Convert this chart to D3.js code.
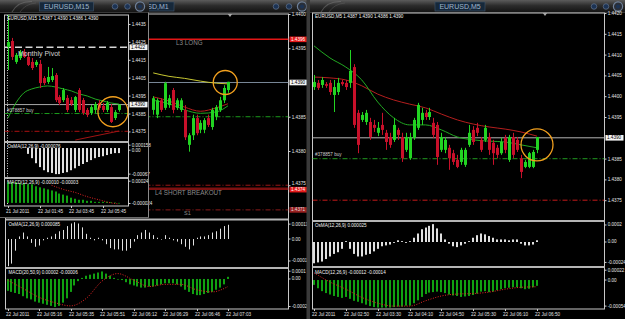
<!DOCTYPE html>
<html>
<head>
<meta charset="utf-8">
<script src="https://cdn.jsdelivr.net/npm/d3@7"></script>
<style>
  body { margin: 0; background: #000; overflow: hidden; }
  svg { display: block; }
  text { font-family: "Liberation Sans", Arial, sans-serif; }
  .ax text { fill: #e8e8e8; font-size: 4.6px; }
  .ax line { stroke: #d0d0d0; }
  .ax path { display: none; }
  .hdr { fill: #f2f2f2; font-size: 4.6px; }
  .tm { fill: #e2e2e2; font-size: 4.6px; }
</style>
</head>
<body>
<svg id="chart" width="625" height="319"></svg>
<script>
// ---------- EURUSD M15 (left window) ----------
const m15Open  = [1.44222,1.44255,1.44138,1.44160,1.44194,1.44166,1.44138,1.44121,1.44127,1.44048,1.44026,1.44037,1.44065,1.43942,1.43925,1.43937,1.43925,1.43870,1.43981,1.43925,1.43870,1.43853,1.43870,1.43909,1.43892,1.43870,1.43886,1.43825,1.43870];
const m15High  = [1.44412,1.44272,1.44188,1.44205,1.44210,1.44194,1.44160,1.44149,1.44149,1.44059,1.44110,1.44104,1.44076,1.43953,1.43992,1.43953,1.43942,1.43948,1.43992,1.43937,1.43881,1.43897,1.43914,1.43925,1.43909,1.43920,1.43903,1.43870,1.43900];
const m15Low   = [1.44093,1.44149,1.44127,1.44149,1.44160,1.44115,1.44093,1.44110,1.43992,1.44009,1.44015,1.44026,1.43914,1.43897,1.43914,1.43858,1.43892,1.43858,1.43858,1.43842,1.43830,1.43842,1.43853,1.43870,1.43858,1.43858,1.43797,1.43814,1.43860];
const m15Close = [1.44249,1.44166,1.44177,1.44194,1.44166,1.44121,1.44104,1.44138,1.44020,1.44020,1.44054,1.44059,1.43925,1.43909,1.43981,1.43870,1.43903,1.43942,1.43870,1.43853,1.43842,1.43886,1.43903,1.43881,1.43870,1.43909,1.43803,1.43858,1.43900];
const m15MaIdx = [0,2,4,6,8,10,12,14,16,18,20,22,24,26,28];
const m15Ma    = [1.43825,1.43909,1.43965,1.43987,1.43998,1.44004,1.43998,1.43987,1.43976,1.43959,1.43948,1.43931,1.43920,1.43909,1.43903];
const m15TrendIdx = [17, 28];
const m15Trend    = [1.43702, 1.43752];
const m15Levels = [1.4422, 1.4390, 1.4385, 1.4375];
const m15Osma = [null,null,null,null,null,-0.00015,-0.00026,-0.00039,-0.00049,-0.00057,-0.00062,-0.00064,-0.00067,-0.00067,-0.00064,-0.00062,-0.00057,-0.00052,-0.00046,-0.00041,-0.00036,-0.00031,-0.00026,-0.00023,-0.00021,-0.00018,-0.00015,-0.00013,-0.00013];
const m15Macd = [0.00020,0.00020,0.00020,0.00019,0.00019,0.00018,0.00018,0.00016,0.00015,0.00014,0.00013,0.00012,0.00011,0.00009,0.00008,0.00007,0.00005,0.00004,0.00003,0.00003,0.00002,0.00002,0.00001,0.00001,0.00001,0.00001,0.000005,0.000003,-0.000002];
const m15SigIdx = [11,14,17,20,23,26,28];
const m15Sig    = [0.00017,0.00013,0.00010,0.00006,0.00003,0.00000,-0.00001];
const m15Ticks = [1.4435,1.4425,1.4415,1.4405,1.4395,1.4385,1.4375];
const m15OsmaTicks = [0.000158, 0, -0.00067];
const m15OsmaLabels = ["0.000158", "0.00", "-0.00067"];
const m15MacdTicks = [0.00024, -0.000024];
const m15MacdLabels = ["0.00024", "-0.000024"];
const m15TimeIdx = [0, 8, 16, 24];
const m15Times = ["21 Jul 2011", "22 Jul 01:45", "22 Jul 03:45", "22 Jul 05:45"];

// ---------- EURUSD M1 (middle window, bars 37..56 visible) ----------
const m1First = 37;
const m1Open  = [1.43860,1.43853,1.43874,1.43863,1.43867,1.43889,1.43863,1.43860,1.43860,1.43809,1.43823,1.43848,1.43831,1.43831,1.43848,1.43835,1.43850,1.43860,1.43874,1.43889];
const m1High  = [1.43880,1.43877,1.43877,1.43901,1.43882,1.43892,1.43877,1.43877,1.43867,1.43826,1.43853,1.43853,1.43845,1.43848,1.43853,1.43863,1.43867,1.43879,1.43896,1.43901];
const m1Low   = [1.43853,1.43848,1.43857,1.43860,1.43863,1.43855,1.43860,1.43857,1.43816,1.43799,1.43816,1.43823,1.43826,1.43826,1.43835,1.43831,1.43845,1.43857,1.43870,1.43885];
const m1Close = [1.43877,1.43874,1.43860,1.43899,1.43877,1.43860,1.43874,1.43874,1.43820,1.43823,1.43848,1.43826,1.43841,1.43845,1.43838,1.43860,1.43864,1.43874,1.43892,1.43901];
const m1MaIdx  = [37,41,45,49,53,56];
const m1MaFast = [1.43874,1.43869,1.43860,1.43855,1.43857,1.43866];
const m1MaSlow = [1.43879,1.43873,1.43864,1.43858,1.43863,1.43869];
const m1MaLong = [1.43914,1.43909,1.43906,1.43902,1.43899,1.43898];
const m1Levels = [1.43963, 1.4390, 1.4385, 1.4375, 1.43745, 1.43714];
const m1Osma = [-0.00021,-0.00019,-0.00009,0.00002,0.00005,0.00002,-0.00003,-0.00006,-0.00005,-0.00001,0.00001,0.00002,0.00004,0.00006,0.00007,0.0001,0.00012,0.00013,0.00012,0.00009,0.00004,0.00001,-0.00001,0.00001,-0.00001,-0.00004,-0.00007,-0.00008,-0.00008,-0.00009,-0.00009,-0.00007,-0.00002,0.00003,0.00005,0.00007,0.00005,0.00003,0.00001,0.00000,0.00003,0.00001,-0.00001,-0.00002,-0.00004,-0.00006,-0.00008,-0.00005,0.00001,0.00002,0.00002,0.00003,0.00005,0.00006,0.00008,0.0001,0.00011];
const m1Macd = [-0.00011,-0.00012,-0.00013,-0.00014,-0.00016,-0.00018,-0.00019,-0.00021,-0.00022,-0.00023,-0.00024,-0.00025,-0.00026,-0.00025,-0.00022,-0.00018,-0.00012,-0.00006,-0.00002,0.00001,0.00003,0.00004,0.00005,0.00006,0.00007,0.00005,0.00003,0.00001,0.00000,-0.00001,-0.00003,-0.00005,-0.00006,-0.00007,-0.00008,-0.00008,-0.00007,-0.00007,-0.00006,-0.00005,-0.00004,-0.00004,-0.00004,-0.00005,-0.00007,-0.00010,-0.00012,-0.00014,-0.00015,-0.00015,-0.00014,-0.00013,-0.00012,-0.00010,-0.00008,-0.00005,0.00002];
const m1SigIdx = [0,4,8,12,16,20,24,28,32,36,40,44,48,52,56];
const m1Sig    = [-0.00001,-0.00009,-0.00017,-0.00022,-0.00025,-0.00018,-0.00002,0.00005,-0.00001,-0.00007,-0.00005,-0.00005,-0.00010,-0.00012,-0.00007];
const m1Ticks = [1.4400,1.4395,1.4385,1.4380,1.4375];
const m1OsmaTicks = [0.000115, 0, -0.00017];
const m1OsmaLabels = ["0.000115", "0.00", "-0.00017"];
const m1MacdTicks = [0.0001, 0, -0.00026];
const m1MacdLabels = ["0.0001", "0.00", "-0.00026"];
const m1TimeIdx = [0, 8, 16, 24, 32, 40, 48, 56];
const m1Times = ["22 Jul 2011","22 Jul 05:16","22 Jul 05:35","22 Jul 05:51","22 Jul 06:12","22 Jul 06:29","22 Jul 06:46","22 Jul 07:03"];

// ---------- EURUSD M5 (right window) ----------
const m5Open  = [1.44022,1.44032,1.44027,1.44029,1.44032,1.44003,1.44010,1.44034,1.44032,1.44032,1.44070,1.43960,1.43943,1.43938,1.43938,1.43931,1.43912,1.43931,1.43912,1.43902,1.43895,1.43919,1.43902,1.43871,1.43851,1.43900,1.43924,1.43943,1.43960,1.43950,1.43936,1.43931,1.43871,1.43871,1.43876,1.43863,1.43847,1.43842,1.43835,1.43883,1.43919,1.43924,1.43895,1.43895,1.43902,1.43888,1.43876,1.43863,1.43900,1.43847,1.43902,1.43895,1.43851,1.43830,1.43830,1.43830,1.43871];
const m5High  = [1.44051,1.44039,1.44046,1.44034,1.44039,1.44039,1.44044,1.44039,1.44039,1.44111,1.44077,1.43967,1.43962,1.43967,1.43948,1.43943,1.43938,1.43960,1.43919,1.43912,1.43948,1.43924,1.43912,1.43912,1.43912,1.43948,1.43984,1.43972,1.43967,1.43972,1.43948,1.43938,1.43912,1.43902,1.43883,1.43871,1.43859,1.43876,1.43876,1.43931,1.43928,1.43936,1.43902,1.43931,1.43912,1.43895,1.43883,1.43900,1.43907,1.43907,1.43912,1.43902,1.43859,1.43847,1.43866,1.43871,1.43902];
const m5Low   = [1.44015,1.44015,1.44020,1.44020,1.44003,1.43962,1.44003,1.44025,1.44015,1.44020,1.43924,1.43863,1.43938,1.43931,1.43895,1.43914,1.43904,1.43907,1.43871,1.43876,1.43890,1.43895,1.43842,1.43866,1.43847,1.43895,1.43919,1.43931,1.43943,1.43943,1.43900,1.43835,1.43866,1.43863,1.43823,1.43835,1.43827,1.43835,1.43830,1.43878,1.43883,1.43904,1.43866,1.43890,1.43859,1.43835,1.43851,1.43859,1.43863,1.43842,1.43851,1.43866,1.43803,1.43827,1.43827,1.43827,1.43863];
const m5Close = [1.44034,1.44020,1.44039,1.44025,1.44010,1.44022,1.44032,1.44029,1.44022,1.44061,1.43931,1.43883,1.43955,1.43960,1.43902,1.43924,1.43924,1.43919,1.43890,1.43883,1.43931,1.43907,1.43851,1.43902,1.43902,1.43943,1.43979,1.43960,1.43950,1.43962,1.43907,1.43854,1.43902,1.43895,1.43851,1.43842,1.43830,1.43871,1.43871,1.43912,1.43890,1.43912,1.43871,1.43924,1.43871,1.43863,1.43859,1.43890,1.43871,1.43902,1.43859,1.43871,1.43818,1.43842,1.43863,1.43866,1.43902];
const m5MaIdx  = [0,4,8,12,16,20,24,28,32,36,40,44,48,52,56];
const m5MaFast = [1.44121,1.44092,1.44070,1.44039,1.43986,1.43948,1.43931,1.43931,1.43919,1.43902,1.43895,1.43892,1.43890,1.43883,1.43876];
const m5MaSlow = [1.44046,1.44044,1.44039,1.44025,1.44005,1.43991,1.43981,1.43972,1.43957,1.43943,1.43933,1.43926,1.43921,1.43914,1.43904];
const m5Levels = [1.4390, 1.4385, 1.4375];
const m5Osma = [-0.00025,-0.00024,-0.00023,-0.0002,-0.00017,-0.00014,-0.00012,-0.00008,0.00001,-0.00008,-0.00014,-0.00017,-0.00017,-0.00015,-0.00014,-0.00011,-0.00008,-0.00005,-0.00004,-0.00003,-0.00001,0.00002,0.00001,-0.00001,0.00001,0.00005,0.0001,0.00015,0.00017,0.00019,0.00021,0.00016,0.0001,0.00003,-0.00002,-0.00005,-0.00006,-0.00004,-0.00002,0.00001,0.00005,0.00008,0.0001,0.00009,0.00007,0.00005,0.00003,0.00003,0.00003,0.00002,0.00003,0.00003,-0.00002,-0.00004,-0.00004,-0.00003,0.00002];
const m5Macd = [-0.00010,-0.00017,-0.00023,-0.00027,-0.00030,-0.00033,-0.00035,-0.00037,-0.00035,-0.00039,-0.00043,-0.00045,-0.00048,-0.00051,-0.00054,-0.00056,-0.00057,-0.00057,-0.00057,-0.00057,-0.00056,-0.00055,-0.00055,-0.00053,-0.00053,-0.00048,-0.00042,-0.00035,-0.00029,-0.00026,-0.00025,-0.00024,-0.00025,-0.00027,-0.00030,-0.00032,-0.00033,-0.00035,-0.00034,-0.00033,-0.00031,-0.00028,-0.00024,-0.00023,-0.00025,-0.00024,-0.00021,-0.00019,-0.00017,-0.00016,-0.00015,-0.00015,-0.00017,-0.00019,-0.00018,-0.00015,-0.00012];
const m5SigIdx = [0,4,8,12,16,20,24,28,32,36,40,44,48,52,56];
const m5Sig    = [0.00015,-0.00004,-0.00019,-0.00036,-0.00048,-0.00054,-0.00054,-0.00043,-0.00033,-0.00029,-0.00028,-0.00025,-0.00019,-0.00015,-0.00014];
const m5Ticks = [1.4420,1.4415,1.4410,1.4405,1.4400,1.4395,1.4385,1.4380,1.4375];
const m5OsmaTicks = [0.0002, 0, -0.00024];
const m5OsmaLabels = ["0.0002", "0.00", "-0.00024"];
const m5MacdTicks = [0.00022, 0, -0.00054];
const m5MacdLabels = ["0.00022", "0.00", "-0.00054"];
const m5TimeIdx = [0, 8, 16, 24, 32, 40, 48, 56];
const m5Times = ["22 Jul 2011","22 Jul 02:50","22 Jul 03:30","22 Jul 04:10","22 Jul 04:50","22 Jul 05:30","22 Jul 06:10","22 Jul 06:50"];

const m15Header = "EURUSD,M15  1.4387 1.4390 1.4386 1.4390";
const m5Header = "EURUSD,M5  1.4387 1.4390 1.4386 1.4390";

// ---------- drawing ----------
const BULL = "#22d422", BEAR = "#c8102a";
const DASHDOT = "5,2,1,2";

const svg = d3.select("#chart");
const defs = svg.append("defs");
const grad = defs.append("linearGradient").attr("id", "tb")
    .attr("x1", 0).attr("y1", 0).attr("x2", 0).attr("y2", 1);
grad.append("stop").attr("offset", "0%").attr("stop-color", "#5c5c5c");
grad.append("stop").attr("offset", "45%").attr("stop-color", "#2c2c2c");
grad.append("stop").attr("offset", "100%").attr("stop-color", "#121212");

svg.append("rect").attr("width", 625).attr("height", 319).attr("fill", "#000");

function makeClip(id, x, y, w, h) {
    defs.append("clipPath").attr("id", id)
        .append("rect").attr("x", x).attr("y", y).attr("width", w).attr("height", h);
    return "url(#" + id + ")";
}

function drawWindow(win) {
    const g = svg.append("g");
    g.append("rect").attr("x", win.x).attr("y", 0).attr("width", win.w).attr("height", win.h).attr("fill", "#000");
    g.append("rect").attr("x", win.x).attr("y", 0).attr("width", win.w).attr("height", 12.5).attr("fill", "url(#tb)");
    g.append("line").attr("x1", win.x).attr("x2", win.x + win.w).attr("y1", 12.5).attr("y2", 12.5)
        .attr("stroke", "#444").attr("stroke-width", 0.8);
    // swirl decoration on the title bar
    g.append("path").attr("d", `M${win.x + 12},12 Q${win.x + 18},1 ${win.x + 32},1.5`)
        .attr("fill", "none").attr("stroke", "#777").attr("stroke-width", 1.1).attr("opacity", 0.55);
    g.append("path").attr("d", `M${win.x + 20},12 Q${win.x + 25},4 ${win.x + 36},3`)
        .attr("fill", "none").attr("stroke", "#666").attr("stroke-width", 0.8).attr("opacity", 0.5);
    g.append("rect").attr("x", win.labelX - win.labelW / 2).attr("y", 2).attr("width", win.labelW).attr("height", 9)
        .attr("fill", "#16283a").attr("stroke", "#42566c").attr("stroke-width", 0.6);
    g.append("text").attr("x", win.labelX).attr("y", 9.3).attr("text-anchor", "middle")
        .attr("fill", "#9fb5cc").attr("font-size", 7).text(win.title);
    win.buttons.forEach((bx, k) => {
        const r = k === 2 ? 4.6 : 2.8;
        g.append("circle").attr("cx", bx).attr("cy", 6.5).attr("r", r)
            .attr("fill", k === 2 ? "#2a2f38" : "#1c3354").attr("stroke", "#6f8098").attr("stroke-width", k === 2 ? 1.2 : 0.6);
        if (k === 2) g.append("circle").attr("cx", bx).attr("cy", 6.5).attr("r", 2).attr("fill", "#1c3354");
    });
    return g;
}

function drawFrame(g, x0, x1, ys) {
    g.append("rect").attr("x", x0).attr("y", ys[0]).attr("width", x1 - x0).attr("height", ys[ys.length - 1] - ys[0])
        .attr("fill", "none").attr("stroke", "#c8c8c8").attr("stroke-width", 1);
    ys.slice(1, -1).forEach(v => {
        g.append("line").attr("x1", x0).attr("x2", x1).attr("y1", v).attr("y2", v)
            .attr("stroke", "#b4b4b4").attr("stroke-width", 2);
    });
}

function drawCandles(g, x, y, first, o, h, l, c) {
    const idx = d3.range(o.length);
    const col = i => c[i] >= o[i] ? BULL : BEAR;
    g.selectAll(null).data(idx).join("line")
        .attr("x1", i => Math.round(x(first + i)) + 0.5)
        .attr("x2", i => Math.round(x(first + i)) + 0.5)
        .attr("y1", i => y(h[i])).attr("y2", i => y(l[i]))
        .attr("stroke", col).attr("stroke-width", 1);
    g.selectAll(null).data(idx).join("rect")
        .attr("x", i => Math.round(x(first + i)) - 1)
        .attr("y", i => y(Math.max(o[i], c[i])))
        .attr("width", 3)
        .attr("height", i => Math.max(1, Math.abs(y(o[i]) - y(c[i]))))
        .attr("fill", col);
}

function drawLine(g, x, y, idx, vals, color, width, dash) {
    g.append("path").datum(idx.map((d, k) => [d, vals[k]]))
        .attr("d", d3.line().x(d => x(d[0])).y(d => y(d[1])).curve(d3.curveMonotoneX))
        .attr("fill", "none").attr("stroke", color).attr("stroke-width", width)
        .attr("stroke-dasharray", dash || null);
}

function drawLevel(g, x0, x1, yPx, color, width, dash) {
    g.append("line").attr("x1", x0).attr("x2", x1).attr("y1", yPx).attr("y2", yPx)
        .attr("stroke", color).attr("stroke-width", width).attr("stroke-dasharray", dash || null);
}

// nudge: optional {tickValue: pixelShift} to lift a label clear of a price box
function drawPriceAxis(g, y, xPos, ticks, nudge) {
    const ax = g.append("g").attr("class", "ax").attr("transform", `translate(${xPos},0)`)
        .call(d3.axisRight(y).tickValues(ticks).tickFormat(d3.format(".4f")).tickSize(2).tickPadding(1.2));
    if (nudge) {
        ax.selectAll(".tick text").attr("y", d => nudge[d] || 0);
    }
}

function drawIndAxis(g, y, xPos, ticks, labels) {
    const [lo, hi] = d3.extent(y.range());
    const pos = [];
    ticks.forEach((d, k) => {
        let p = Math.min(hi - 2.5, Math.max(lo + 3.2, y(d)));
        if (k > 0) p = Math.max(p, pos[k - 1] + 5);
        pos.push(p);
    });
    g.append("g").attr("class", "ax").attr("transform", `translate(${xPos},0)`)
        .call(d3.axisRight(y).tickValues(ticks).tickFormat((d, k) => labels[k]).tickSize(2).tickPadding(1.2))
        .selectAll(".tick").attr("transform", (d, k) => `translate(0,${pos[k]})`);
}

function drawPriceBox(g, xPos, yPx, label, fill, color) {
    g.append("rect").attr("x", xPos + 1).attr("y", yPx - 2.8).attr("width", 18).attr("height", 5.6).attr("fill", fill);
    g.append("text").attr("x", xPos + 2.5).attr("y", yPx + 1.6).attr("fill", color).attr("font-size", 4.6).text(label);
}

function drawHist(g, x, y, vals, color, width) {
    const idx = d3.range(vals.length).filter(i => vals[i] !== null);
    g.selectAll(null).data(idx).join("rect")
        .attr("x", i => Math.round(x(i)) - Math.floor(width / 2))
        .attr("y", i => Math.min(y(0), y(vals[i])))
        .attr("width", width)
        .attr("height", i => Math.max(0.6, Math.abs(y(vals[i]) - y(0))))
        .attr("fill", color);
}

function drawTimeAxis(g, x, yBase, idx, labels) {
    const t = g.selectAll(null).data(idx).join("g").attr("transform", d => `translate(${Math.round(x(d)) + 0.5},${yBase})`);
    t.append("line").attr("y1", 0).attr("y2", 2).attr("stroke", "#cfcfcf");
    t.append("text").attr("class", "tm").attr("x", -2.5).attr("y", 7).text((d, k) => labels[k]);
}

function header(g, xPos, yPos, txt) {
    g.append("text").attr("class", "hdr").attr("x", xPos).attr("y", yPos).text(txt);
}

function orangeRing(g, cx, cy, r) {
    g.append("circle").attr("cx", cx).attr("cy", cy).attr("r", r)
        .attr("fill", "none").attr("stroke", "#f2a01e").attr("stroke-width", 1.3);
}

function shiftMark(g, cx, cy) {
    g.append("path").attr("d", `M${cx - 2.2},${cy - 1.5} L${cx + 2.2},${cy - 1.5} L${cx},${cy + 1.5} Z`).attr("fill", "#a8a8a8");
}

// ===== middle window : EURUSD,M1 =====
{
    const g = drawWindow({x: 0, w: 309, h: 319, title: "EURUSD,M1", labelX: 148, labelW: 52, buttons: [276, 289, 302]});
    const x0 = 5.5, x1 = 288.5;
    const x = d3.scaleLinear().domain([0, 56]).range([7.5, 228]);
    const y = d3.scaleLinear().domain([1.437007, 1.4400]).range([219, 14]);
    const yO = d3.scaleLinear().domain([-0.000224, 0.000147]).range([268, 220]);
    const yM = d3.scaleLinear().domain([-0.000279, 0.000102]).range([309, 268]);
    drawFrame(g, x0, x1, [14, 219.5, 268, 309]);

    const main = g.append("g").attr("clip-path", makeClip("cM1", x0, 14, x1 - x0, 205));
    drawLevel(main, x0, x1, y(m1Levels[0]), "#e31616", 1.5);
    drawLevel(main, x0, x1, y(m1Levels[1]), "#7a8898", 1);
    drawLevel(main, x0, x1, y(m1Levels[2]), "#1c9a1c", 1, DASHDOT);
    drawLevel(main, x0, x1, y(m1Levels[3]), "#9a1515", 1, DASHDOT);
    drawLevel(main, x0, x1, y(m1Levels[4]), "#7c1010", 2.5);
    drawLevel(main, x0, x1, y(m1Levels[5]), "#8a1a1a", 1, DASHDOT);
    drawLine(main, x, y, m1MaIdx, m1MaLong, "#c8c832", 1);
    drawLine(main, x, y, m1MaIdx, m1MaSlow, "#b41e1e", 1);
    drawLine(main, x, y, m1MaIdx, m1MaFast, "#22a822", 1);
    drawCandles(main, x, y, m1First, m1Open, m1High, m1Low, m1Close);
    orangeRing(main, x(55.3), y(1.43900), 12);
    shiftMark(g, 230, 15.5);
    main.append("text").attr("x", 176).attr("y", y(m1Levels[0]) + 6).attr("fill", "#8a8a8a").attr("font-size", 6.3).text("L3 LONG");
    main.append("text").attr("x", 155).attr("y", y(m1Levels[4]) + 6).attr("fill", "#8a8a8a").attr("font-size", 6.3).text("L4 SHORT BREAKOUT");
    main.append("text").attr("x", 184).attr("y", y(m1Levels[5]) + 5.5).attr("fill", "#8a8a8a").attr("font-size", 5.5).text("S1");

    drawPriceAxis(g, y, x1, m1Ticks, {1.4375: -1.8});
    drawPriceBox(g, x1, y(m1Levels[0]), "1.4396", "#e51a1a", "#fff");
    drawPriceBox(g, x1, y(m1Levels[1]), "1.4390", "#f4f4f4", "#000");
    drawPriceBox(g, x1, y(m1Levels[4]) + 1, "1.4374", "#e51a1a", "#fff");
    drawPriceBox(g, x1, y(m1Levels[5]), "1.4371", "#9a2020", "#ddd");

    drawHist(g, x, yO, m1Osma, "#e0e0e0", 1);
    drawHist(g, x, yM, m1Macd, "#11a011", 2);
    drawLine(g, x, yM, m1SigIdx, m1Sig, "#e42424", 1, "1,1.5");
    drawIndAxis(g, yO, x1, m1OsmaTicks, m1OsmaLabels);
    drawIndAxis(g, yM, x1, m1MacdTicks, m1MacdLabels);
    header(g, 8.5, 226, "OsMA(12,26,9) 0.000085");
    header(g, 8.5, 273.5, "MACD(20,50,9) 0.00002 -0.00006");
    drawTimeAxis(g, x, 309, m1TimeIdx, m1Times);
}

// ===== left window : EURUSD,M15 =====
{
    const g = drawWindow({x: 0, w: 149, h: 218, title: "EURUSD,M15", labelX: 66.5, labelW: 54, buttons: [115, 127.5, 140]});
    const x0 = 4.5, x1 = 128.5;
    const x = d3.scaleLinear().domain([0, 28]).range([8, 118.9]);
    const y = d3.scaleLinear().domain([1.43691, 1.44400]).range([142, 15]);
    const yO = d3.scaleLinear().domain([-0.00077, 0.000155]).range([178, 142]);
    const yM = d3.scaleLinear().domain([-0.00003, 0.00024]).range([206, 178]);
    drawFrame(g, x0, x1, [15, 142, 178, 206]);

    const main = g.append("g").attr("clip-path", makeClip("cM15", x0, 15, x1 - x0, 127));
    main.append("line").attr("x1", 7.5).attr("x2", 7.5).attr("y1", 15).attr("y2", 142)
        .attr("stroke", "#cfcfcf").attr("stroke-dasharray", "1,1.5");
    drawLevel(main, x0, x1, y(m15Levels[0]), "#d6d6d6", 1.6, "7,3.5");
    drawLevel(main, x0, x1, y(m15Levels[1]), "#a8a8a8", 1);
    drawLevel(main, x0, x1, y(m15Levels[2]), "#1c9c1c", 1, DASHDOT);
    drawLevel(main, x0, x1, y(m15Levels[3]), "#8a0d0d", 1.2, DASHDOT);
    drawLine(main, x, y, m15TrendIdx, m15Trend, "#a01414", 1);
    drawLine(main, x, y, m15MaIdx, m15Ma, "#22aa22", 1);
    drawCandles(main, x, y, 0, m15Open, m15High, m15Low, m15Close);
    orangeRing(main, x(26.5), y(1.43860), 15);
    main.append("text").attr("x", 18).attr("y", y(m15Levels[0]) + 8.5).attr("fill", "#d2d2d2").attr("font-size", 7).text("Monthly Pivot");
    main.append("text").attr("x", 7).attr("y", y(m15Levels[2]) - 1.5).attr("fill", "#cfcfcf").attr("font-size", 4.6).text("#378857 buy");
    header(g, 7.5, 19.8, m15Header);

    drawPriceAxis(g, y, x1, m15Ticks);
    drawPriceBox(g, x1, y(m15Levels[0]), "1.4422", "#f4f4f4", "#000");
    drawPriceBox(g, x1, y(m15Levels[1]), "1.4390", "#f4f4f4", "#000");

    const sub = g.append("g");
    sub.append("line").attr("x1", 7.5).attr("x2", 7.5).attr("y1", 143).attr("y2", 205)
        .attr("stroke", "#cfcfcf").attr("stroke-dasharray", "1,1.5");
    drawHist(sub, x, yO, m15Osma, "#e0e0e0", 2);
    drawHist(sub, x, yM, m15Macd, "#11a011", 2);
    drawLine(sub, x, yM, m15SigIdx, m15Sig, "#e42424", 1, "1,1.5");
    drawIndAxis(g, yO, x1, m15OsmaTicks, m15OsmaLabels);
    drawIndAxis(g, yM, x1, m15MacdTicks, m15MacdLabels);
    header(g, 7.5, 148, "OsMA(12,26,9) -0.000076");
    header(g, 7.5, 184, "MACD(12,26,9) -0.00010 -0.00003");
    drawTimeAxis(g, x, 206, m15TimeIdx, m15Times);
    g.append("line").attr("x1", 148.5).attr("x2", 148.5).attr("y1", 12.5).attr("y2", 218)
        .attr("stroke", "#8a8a8a").attr("stroke-width", 1);
    g.append("line").attr("x1", 0).attr("x2", 149).attr("y1", 217.5).attr("y2", 217.5)
        .attr("stroke", "#6a6a6a").attr("stroke-width", 1);
}

// ===== right window : EURUSD,M5 =====
{
    const g = drawWindow({x: 309, w: 316, h: 319, title: "EURUSD,M5", labelX: 460, labelW: 50, buttons: [594, 606, 618]});
    g.append("rect").attr("x", 306.5).attr("y", 0).attr("width", 3.5).attr("height", 319).attr("fill", "#3a3a3a");
    const x0 = 312.5, x1 = 604.5;
    const x = d3.scaleLinear().domain([0, 56]).range([314, 537]);
    const y = d3.scaleLinear().domain([1.4370, 1.4420]).range([221, 13]);
    const yO = d3.scaleLinear().domain([-0.000294, 0.000247]).range([267, 221]);
    const yM = d3.scaleLinear().domain([-0.0006, 0.00027]).range([309, 267]);
    drawFrame(g, x0, x1, [13, 221, 267, 309]);

    const main = g.append("g").attr("clip-path", makeClip("cM5", x0, 13, x1 - x0, 208));
    drawLevel(main, x0, x1, y(m5Levels[0]), "#b4b4b4", 1);
    drawLevel(main, x0, x1, y(m5Levels[1]), "#1a7a1a", 1.2, DASHDOT);
    drawLevel(main, x0, x1, y(m5Levels[2]), "#c41a1a", 1, DASHDOT);
    drawLine(main, x, y, m5MaIdx, m5MaSlow, "#b41e1e", 1);
    drawLine(main, x, y, m5MaIdx, m5MaFast, "#22a822", 1);
    drawCandles(main, x, y, 0, m5Open, m5High, m5Low, m5Close);
    orangeRing(main, x(56), y(1.43883), 16);
    shiftMark(g, 545, 14.5);
    main.append("text").attr("x", 315).attr("y", y(m5Levels[1]) - 3).attr("fill", "#cfcfcf").attr("font-size", 4.6).text("#378857 buy");
    header(g, 315, 18, m5Header);

    drawPriceAxis(g, y, x1, m5Ticks);
    drawPriceBox(g, x1, y(m5Levels[0]), "1.4390", "#f4f4f4", "#000");

    drawHist(g, x, yO, m5Osma, "#e0e0e0", 2);
    drawHist(g, x, yM, m5Macd, "#11a011", 2);
    drawLine(g, x, yM, m5SigIdx, m5Sig, "#e42424", 1, "1,1.5");
    drawIndAxis(g, yO, x1, m5OsmaTicks, m5OsmaLabels);
    drawIndAxis(g, yM, x1, m5MacdTicks, m5MacdLabels);
    header(g, 315, 227, "OsMA(12,26,9) 0.000025");
    header(g, 315, 273.5, "MACD(12,26,9) -0.00012 -0.00014");
    drawTimeAxis(g, x, 309, m5TimeIdx, m5Times);
}
</script>
</body>
</html>
